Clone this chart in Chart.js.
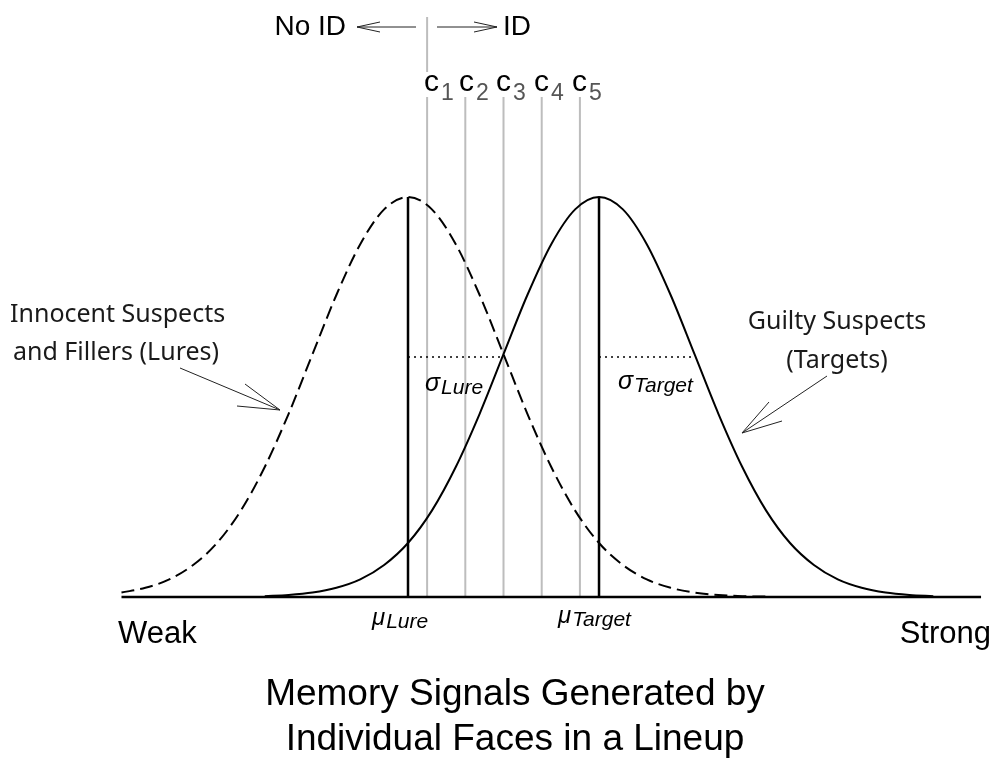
<!DOCTYPE html>
<html>
<head>
<meta charset="utf-8">
<title>Memory signals</title>
<script src="https://cdn.jsdelivr.net/npm/chart.js@4.4.0/dist/chart.umd.min.js"></script>
<style>
  body { margin: 0; background: #fff; }
  #wrap { width: 999px; height: 762px; position: relative; }
</style>
</head>
<body>
<div id="wrap"><canvas id="chart-1"></canvas></div>
<script>
// memory strength in lure-SD units, heights relative to the peak
const lureX = [-3, -2.75, -2.5, -2.25, -2, -1.75, -1.5, -1.25, -1, -0.75, -0.5, -0.25, 0,
  0.25, 0.5, 0.75, 1, 1.25, 1.5, 1.75, 2, 2.25, 2.5, 2.75, 3, 3.25, 3.5, 3.75];
const lureY = [0.011, 0.023, 0.044, 0.080, 0.135, 0.216, 0.325, 0.458, 0.607, 0.755, 0.882, 0.969, 1.0,
  0.969, 0.882, 0.755, 0.607, 0.458, 0.325, 0.216, 0.135, 0.080, 0.044, 0.023, 0.011, 0.005, 0.002, 0.001];

const targetX = [-1.5, -1.25, -1, -0.75, -0.5, -0.25, 0, 0.25, 0.5, 0.75, 1, 1.25, 1.5, 1.75, 2,
  2.25, 2.5, 2.75, 3, 3.25, 3.5, 3.75, 4, 4.25, 4.5, 4.75, 5, 5.25, 5.5];
const targetY = [0.002, 0.005, 0.011, 0.023, 0.044, 0.080, 0.135, 0.216, 0.325, 0.458, 0.607, 0.755, 0.882, 0.969, 1.0,
  0.969, 0.882, 0.755, 0.607, 0.458, 0.325, 0.216, 0.135, 0.080, 0.044, 0.023, 0.011, 0.005, 0.002];

const means = [0, 2];          // mu Lure, mu Target
const sigmas = [1, 1];         // sigma Lure, sigma Target
const sigmaHeight = 0.6;
const criteria = [0.2, 0.6, 1.0, 1.4, 1.8];
const criteriaLabels = ["1", "2", "3", "4", "5"];
const criterionTop = 1.25;
const noIdLine = [1.3125, 1.45];   // upper piece of c1 between the arrows
const axisRange = [-3, 6];

const pts = (xs, ys) => xs.map((x, i) => ({ x: x, y: ys[i] }));
const vline = (x, y0, y1) => [{ x: x, y: y0 }, { x: x, y: y1 }];

const datasets = [
  { data: pts(lureX, lureY), borderColor: "#000", borderWidth: 2, borderDash: [13, 6],
    cubicInterpolationMode: "monotone" },
  { data: pts(targetX, targetY), borderColor: "#000", borderWidth: 2,
    cubicInterpolationMode: "monotone" },
  { data: [{ x: axisRange[0], y: 0 }, { x: axisRange[1], y: 0 }], borderColor: "#000", borderWidth: 2.5 },
];
means.forEach((m) => {
  datasets.push({ data: vline(m, 0, 1), borderColor: "#000", borderWidth: 2.5 });
});
means.forEach((m, i) => {
  datasets.push({ data: [{ x: m, y: sigmaHeight }, { x: m + sigmas[i], y: sigmaHeight }],
    borderColor: "#000", borderWidth: 1.5, borderDash: [2, 4] });
});
criteria.forEach((c) => {
  datasets.push({ data: vline(c, 0, criterionTop), borderColor: "#bdbdbd", borderWidth: 2 });
});
datasets.push({ data: vline(criteria[0], noIdLine[0], noIdLine[1]), borderColor: "#bdbdbd", borderWidth: 2 });

datasets.forEach((d) => { d.showLine = true; d.pointRadius = 0; d.fill = false; });

const txt = (ctx, s, x, y, font, align, color) => {
  ctx.font = font;
  ctx.textAlign = align || "left";
  ctx.textBaseline = "middle";
  ctx.fillStyle = color || "#000";
  ctx.fillText(s, x, y);
};

const seg = (ctx, x0, y0, x1, y1, w, color) => {
  ctx.beginPath();
  ctx.moveTo(x0, y0);
  ctx.lineTo(x1, y1);
  ctx.lineWidth = w;
  ctx.strokeStyle = color || "#000";
  ctx.stroke();
};

const labelsPlugin = {
  id: "labels",
  afterDraw(chart) {
    const ctx = chart.ctx;
    ctx.save();

    // No ID <-- | --> ID
    txt(ctx, "No ID", 346, 27, "28px 'Liberation Sans', Arial", "right");
    txt(ctx, "ID", 503, 27, "28px 'Liberation Sans', Arial", "left");
    seg(ctx, 357, 27, 416, 27, 1, "#222");
    seg(ctx, 357, 27, 380, 22, 1, "#222");
    seg(ctx, 357, 27, 380, 32, 1, "#222");
    seg(ctx, 437, 27, 497, 27, 1, "#222");
    seg(ctx, 497, 27, 474, 22, 1, "#222");
    seg(ctx, 497, 27, 474, 32, 1, "#222");

    // criterion labels
    const cx = [424, 459, 496, 534, 572];
    criteriaLabels.forEach((l, i) => {
      txt(ctx, "c", cx[i], 83, "30px 'Liberation Sans', Arial", "left");
      txt(ctx, l, cx[i] + 17, 94, "23px 'Liberation Sans', Arial", "left", "#555");
    });

    // sigma and mu labels
    const sub = (main, s, x, y, f1, f2) => {
      txt(ctx, main, x, y, f1, "left");
      ctx.font = f1;
      const w = ctx.measureText(main).width;
      txt(ctx, s, x + w + 1, y + 4, f2, "left");
    };
    sub("\u03c3", "Lure", 425, 384, "italic 25px 'Liberation Sans', Arial", "italic 21px 'Liberation Sans', Arial");
    sub("\u03c3", "Target", 618, 382, "italic 25px 'Liberation Sans', Arial", "italic 21px 'Liberation Sans', Arial");
    sub("\u03bc", "Lure", 372, 618, "italic 24px 'Liberation Sans', Arial", "italic 21px 'Liberation Sans', Arial");
    sub("\u03bc", "Target", 558, 616, "italic 24px 'Liberation Sans', Arial", "italic 21px 'Liberation Sans', Arial");

    // ends of the axis
    txt(ctx, "Weak", 118, 634, "31px 'Liberation Sans', Arial", "left");
    txt(ctx, "Strong", 991, 634, "31px 'Liberation Sans', Arial", "right");

    // curve captions
    const capFont = "25px 'Noto Sans', sans-serif";
    txt(ctx, "Innocent Suspects", 10, 315, capFont, "left", "#1a1a1a");
    txt(ctx, "and Fillers (Lures)", 13, 353, capFont, "left", "#1a1a1a");
    seg(ctx, 180, 368, 280, 410, 1, "#222");
    seg(ctx, 280, 410, 245, 384, 1, "#222");
    seg(ctx, 280, 410, 237, 406, 1, "#222");

    txt(ctx, "Guilty Suspects", 837, 322, capFont, "center", "#1a1a1a");
    txt(ctx, "(Targets)", 837, 361, capFont, "center", "#1a1a1a");
    seg(ctx, 827, 376, 742, 433, 1, "#222");
    seg(ctx, 742, 433, 769, 402, 1, "#222");
    seg(ctx, 742, 433, 782, 421, 1, "#222");

    // title
    txt(ctx, "Memory Signals Generated by", 515, 695, "37px 'Liberation Sans', Arial", "center");
    txt(ctx, "Individual Faces in a Lineup", 515, 740, "37px 'Liberation Sans', Arial", "center");

    ctx.restore();
  },
};

const ctx1 = document.getElementById("chart-1").getContext("2d");
const myChart = new Chart(ctx1, {
  type: "scatter",
  data: { datasets: datasets },
  options: {
    responsive: true,
    maintainAspectRatio: false,
    animation: false,
    layout: { padding: 0 },
    plugins: { legend: { display: false }, tooltip: { enabled: false } },
    scales: {
      x: { type: "linear", display: false, min: -4.272, max: 6.188 },
      y: { type: "linear", display: false, min: -0.4125, max: 1.4925 },
    },
  },
  plugins: [labelsPlugin],
});
</script>
</body>
</html>
